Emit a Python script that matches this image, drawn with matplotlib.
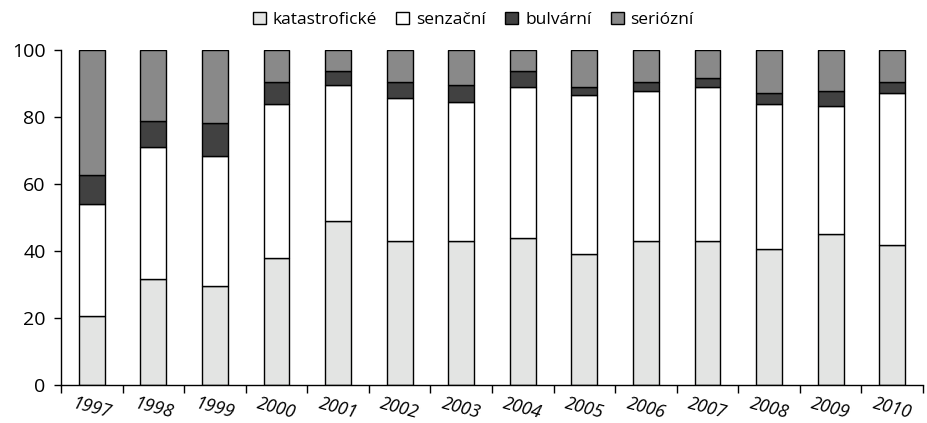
import matplotlib
matplotlib.use("Agg")
import matplotlib.pyplot as plt
import numpy as np

years = ["1997", "1998", "1999", "2000", "2001", "2002", "2003",
         "2004", "2005", "2006", "2007", "2008", "2009", "2010"]
katastroficke = [20.6, 31.5, 29.5, 37.9, 49.0, 43.1, 43.1, 43.8, 39.2, 43.1, 43.1, 40.6, 45.2, 41.8]
senzacni = [33.5, 39.5, 38.9, 46.0, 40.7, 42.7, 41.4, 45.2, 47.3, 44.6, 45.9, 43.2, 38.0, 45.3]
bulvarni = [8.5, 7.9, 9.7, 6.5, 3.9, 4.6, 5.2, 4.6, 2.6, 2.7, 2.7, 3.5, 4.6, 3.3]
seriozni = [37.4, 21.1, 21.9, 9.6, 6.4, 9.6, 10.3, 6.4, 10.9, 9.6, 8.3, 12.7, 12.2, 9.6]

series = [("katastrofické", katastroficke, "#e3e4e3"),
          ("senzační", senzacni, "#ffffff"),
          ("bulvární", bulvarni, "#414141"),
          ("seriózní", seriozni, "#898989")]

plt.rcParams['font.family'] = ['Open Sans', 'DejaVu Sans']

fig = plt.figure(figsize=(9.28, 4.23), dpi=100)
ax = fig.add_axes([61/928, 1-385/423, 862/928, 335/423])

x = np.arange(len(years))
bottom = np.zeros(len(years))
for name, vals, col in series:
    ax.bar(x, vals, bottom=bottom, width=0.42, color=col, edgecolor="black",
           linewidth=1.0, label=name)
    bottom += np.array(vals)

ax.set_xlim(-0.5, len(years) - 0.5)
ax.set_ylim(0, 100)
ax.set_yticks([0, 20, 40, 60, 80, 100])
ax.tick_params(axis='y', labelsize=14, length=5, width=1, pad=6)
for s in ["top", "right"]:
    ax.spines[s].set_visible(False)
ax.spines["left"].set_linewidth(1)
ax.spines["bottom"].set_linewidth(1)

ax.set_xticks(np.arange(-0.5, len(years)), minor=False)
ax.set_xticklabels([])
ax.tick_params(axis='x', length=6, width=1, direction='out')
ax.set_xticks(x, minor=True)
ax.set_xticklabels(years, minor=True, rotation=-15, fontsize=13, style='italic',
                   ha='center', rotation_mode='default')
ax.tick_params(axis='x', which='minor', length=0, pad=7)

ax.legend(loc="upper center", bbox_to_anchor=(0.5 - 20/928, 1.135), ncol=4,
          frameon=False, fontsize=12.5, handlelength=0.75, handleheight=0.75,
          handletextpad=0.4, columnspacing=1.1, borderaxespad=0)

fig.savefig("out.png", dpi=100)
